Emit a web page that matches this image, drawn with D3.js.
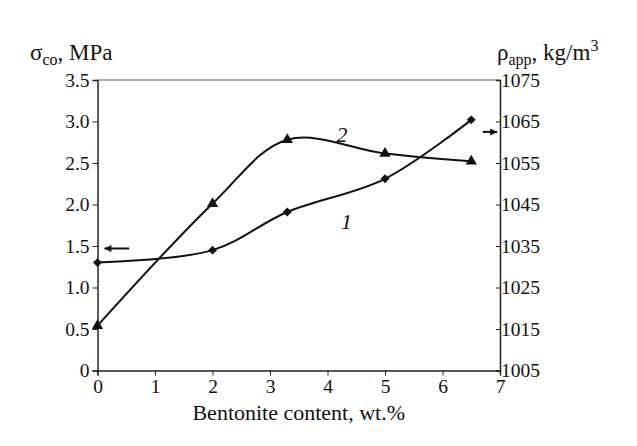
<!DOCTYPE html>
<html><head><meta charset="utf-8">
<script src="https://cdn.jsdelivr.net/npm/d3@7"></script>
</head><body style="margin:0">
<svg id="c" width="637" height="446" font-family="Liberation Serif" style="font-family:'Liberation Serif'"></svg>
<script>
const xTicks = [0,1,2,3,4,5,6,7];
const leftTicks = [0,0.5,1.0,1.5,2.0,2.5,3.0,3.5];
const leftTickLabels = ["0","0.5","1.0","1.5","2.0","2.5","3.0","3.5"];
const rightTicks = [1005,1015,1025,1035,1045,1055,1065,1075];
const content = [0,2,3.3,5,6.5];
const strength = [1.3,1.45,1.91,2.31,3.02];       // curve 1, left axis (MPa)
const density = [1015.8,1045.2,1060.6,1057.3,1055.4]; // curve 2, right axis (kg/m3)

const svg = d3.select("#c");
const L=97.5, R=500, T=80, B=370.5;
const x = d3.scaleLinear().domain([0,7]).range([L,R]);
const yL = d3.scaleLinear().domain([0,3.5]).range([B,T]);
const yR = d3.scaleLinear().domain([1005,1075]).range([B,T]);

svg.append("line").attr("x1",L).attr("x2",R).attr("y1",T).attr("y2",T).attr("stroke","#999").attr("stroke-width",1.5);

const gx = svg.append("g").attr("transform",`translate(0,${B})`)
  .call(d3.axisBottom(x).tickValues(xTicks).tickSize(5).tickPadding(3).tickFormat(d3.format("d")));
const gl = svg.append("g").attr("transform",`translate(${L},0)`)
  .call(d3.axisLeft(yL).tickValues(leftTicks).tickSize(5).tickFormat((d,i)=>leftTickLabels[i]));
const gr = svg.append("g").attr("transform",`translate(${R},0)`)
  .call(d3.axisRight(yR).tickValues(rightTicks).tickSize(-4).tickPadding(1).tickFormat(d3.format("d")));
[gx,gl,gr].forEach(g=>{
  g.attr("font-family","Liberation Serif").attr("font-size",19.5);
  g.selectAll("path").attr("stroke","#222").attr("stroke-width",1.5);
  g.selectAll("line").attr("stroke","#222");
  g.selectAll("text").attr("fill","#111");
});
gx.selectAll("text").attr("dy","0.75em");

const line1 = d3.line().x((d,i)=>x(content[i])).y(d=>yL(d)).curve(d3.curveCatmullRom.alpha(0.5));
const line2 = d3.line().x((d,i)=>x(content[i])).y(d=>yR(d)).curve(d3.curveCatmullRom.alpha(0.5));
svg.append("path").datum(strength).attr("d",line1).attr("fill","none").attr("stroke","#111").attr("stroke-width",2);
svg.append("path").datum(density).attr("d",line2).attr("fill","none").attr("stroke","#111").attr("stroke-width",2);

svg.selectAll(".dm").data(strength).enter().append("path")
  .attr("d",d3.symbol().type(d3.symbolDiamond2).size(50))
  .attr("transform",(d,i)=>`translate(${x(content[i])},${yL(d)})`).attr("fill","#111");
svg.selectAll(".tr").data(density).enter().append("path")
  .attr("d",d3.symbol().type(d3.symbolTriangle).size(55))
  .attr("transform",(d,i)=>`translate(${x(content[i])},${yR(d)})`).attr("fill","#111");

function arrow(x1,x2,y){
  svg.append("line").attr("x1",x1).attr("x2",x2).attr("y1",y).attr("y2",y).attr("stroke","#111").attr("stroke-width",2);
  const dir = Math.sign(x2-x1);
  svg.append("path").attr("d",`M${x2},${y} L${x2-dir*7},${y-3.5} L${x2-dir*7},${y+3.5} Z`).attr("fill","#111");
}
arrow(x(0.55),x(0.12),yL(1.47));
arrow(x(6.7),x(6.95),yR(1062.5));

function txt(){ return svg.append("text").attr("font-family","Liberation Serif").attr("fill","#111"); }
txt().attr("x",x(4.25)).attr("y",yL(2.75)).attr("font-style","italic").attr("font-size",22).attr("text-anchor","middle").text("2");
txt().attr("x",x(4.33)).attr("y",yL(1.7)).attr("font-style","italic").attr("font-size",22).attr("text-anchor","middle").text("1");

txt().attr("x",(L+R)/2).attr("y",420).attr("text-anchor","middle").attr("font-size",22).text("Bentonite content, wt.%");
const lt = txt().attr("x",30).attr("y",60).attr("font-size",23);
lt.append("tspan").text("σ");
lt.append("tspan").attr("dy",5).attr("font-size",16).text("co");
lt.append("tspan").attr("dy",-5).text(", MPa");
const rt = txt().attr("x",497).attr("y",60).attr("font-size",23);
rt.append("tspan").text("ρ");
rt.append("tspan").attr("dy",5).attr("font-size",16).text("app");
rt.append("tspan").attr("dy",-5).text(", kg/m");
rt.append("tspan").attr("dy",-9).attr("font-size",16).text("3");
</script>
</body></html>
